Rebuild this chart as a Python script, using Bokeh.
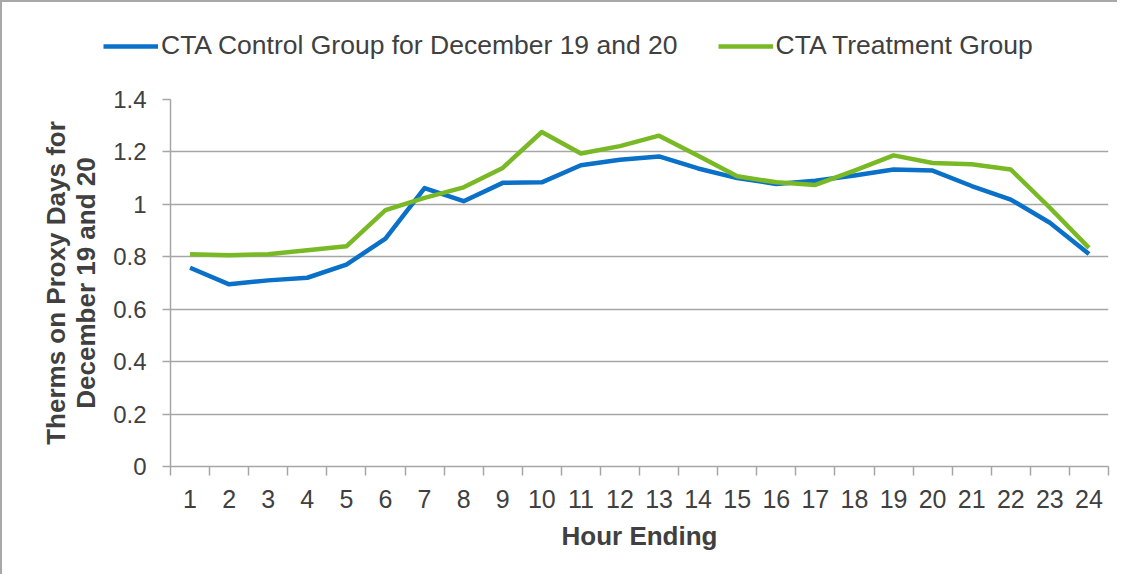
from bokeh.plotting import figure
from bokeh.models import (Legend, LegendItem, FixedTicker, Range1d)
from bokeh.layouts import column
from bokeh.embed import file_html
from bokeh.resources import INLINE

# ---- data ----
hours = list(range(1, 25))
hour_labels = [str(h) for h in hours]
control = [0.758, 0.695, 0.710, 0.720, 0.770, 0.869, 1.062, 1.012, 1.082, 1.084,
           1.149, 1.170, 1.183, 1.137, 1.100, 1.078, 1.090, 1.110, 1.133, 1.129,
           1.070, 1.018, 0.930, 0.811]
treatment = [0.810, 0.806, 0.810, 0.825, 0.840, 0.978, 1.025, 1.065, 1.139, 1.276,
             1.194, 1.222, 1.262, 1.185, 1.107, 1.084, 1.074, 1.129, 1.187, 1.158,
             1.153, 1.133, 0.987, 0.834]
y_ticks = [0, 0.2, 0.4, 0.6, 0.8, 1.0, 1.2, 1.4]
y_tick_labels = ["0", "0.2", "0.4", "0.6", "0.8", "1", "1.2", "1.4"]
series_names = ["CTA Control Group for December 19 and 20", "CTA Treatment Group"]
x_title = "Hour Ending"
y_title = "Therms on Proxy Days for\nDecember 19 and 20"

BLUE = "#0a70c8"
GREEN = "#79b926"
GRID = "#a6a6a6"
TXT = "#404040"
FONT = "Liberation Sans"
LW = 4.5
TOTAL_W = 1115
LEG_H = 80

# ---- legend strip (its own small figure; the series sit outside its view) ----
leg = figure(width=TOTAL_W, height=LEG_H, min_border=0,
             x_axis_location=None, y_axis_location=None,
             x_range=Range1d(100, 200), y_range=Range1d(100, 200),
             output_backend="svg", toolbar_location=None)
leg.frame_align = False
leg.grid.visible = False
leg.outline_line_color = None
lr1 = leg.line(hours, control, line_color=BLUE, line_width=LW)
lr2 = leg.line(hours, treatment, line_color=GREEN, line_width=LW)
legend = Legend(items=[LegendItem(label=series_names[0], renderers=[lr1]),
                       LegendItem(label=series_names[1], renderers=[lr2])],
                orientation="horizontal", location=(101, 21),
                padding=0, spacing=40, margin=0,
                glyph_width=55, glyph_height=30, label_height=30,
                label_standoff=3,
                label_text_font=FONT, label_text_font_size="26.5px",
                label_text_color=TXT,
                border_line_alpha=0, background_fill_alpha=0)
leg.add_layout(legend)

# ---- main chart ----
p = figure(frame_width=938, frame_height=367,
           min_border_left=168, min_border_right=9,
           min_border_top=97 - LEG_H, min_border_bottom=108,
           x_range=Range1d(0.5, 24.5), y_range=Range1d(0, 1.4),
           output_backend="svg", toolbar_location=None)
p.frame_align = False
p.outline_line_color = None
p.background_fill_color = "white"
p.border_fill_color = "white"

r1 = p.line(hours, control, line_color=BLUE, line_width=LW, line_join="round")
r2 = p.line(hours, treatment, line_color=GREEN, line_width=LW, line_join="round")

# x axis
xa = p.xaxis[0]
xa.ticker = FixedTicker(ticks=hours, minor_ticks=[h - 0.5 for h in hours] + [24.5])
xa.major_label_overrides = {h: lab for h, lab in zip(hours, hour_labels)}
xa.major_tick_out = 0
xa.major_tick_in = 0
xa.minor_tick_out = 9
xa.minor_tick_in = 0
xa.minor_tick_line_color = GRID
xa.minor_tick_line_width = 1.5
xa.axis_line_color = GRID
xa.axis_line_width = 1.5
xa.major_label_text_font = FONT
xa.major_label_text_font_size = "25px"
xa.major_label_text_color = TXT
xa.major_label_standoff = 14
xa.axis_label = x_title
xa.axis_label_text_font = FONT
xa.axis_label_text_font_size = "26px"
xa.axis_label_text_font_style = "bold"
xa.axis_label_text_color = TXT
xa.axis_label_standoff = 10

# y axis
ya = p.yaxis[0]
ya.ticker = FixedTicker(ticks=y_ticks, minor_ticks=[])
ya.major_label_overrides = {t: lab for t, lab in zip(y_ticks, y_tick_labels)}
ya.major_tick_out = 8
ya.major_tick_in = 0
ya.major_tick_line_color = GRID
ya.major_tick_line_width = 1.5
ya.axis_line_color = GRID
ya.axis_line_width = 1.5
ya.major_label_text_font = FONT
ya.major_label_text_font_size = "24px"
ya.major_label_text_color = TXT
ya.major_label_standoff = 16
ya.axis_label = y_title
ya.axis_label_text_font = FONT
ya.axis_label_text_font_size = "26px"
ya.axis_label_text_font_style = "bold"
ya.axis_label_text_color = TXT
ya.axis_label_text_line_height = 1.0
ya.axis_label_standoff = 9

p.xgrid.grid_line_color = None
p.ygrid.grid_line_color = GRID
p.ygrid.grid_line_width = 1.5
p.ygrid.ticker = FixedTicker(ticks=y_ticks)

layout = column(leg, p, spacing=0)
layout.styles = {"border-top": "2px solid #a8a8a8", "border-left": "2px solid #a8a8a8"}

open("out.html", "w").write(file_html(layout, INLINE))
